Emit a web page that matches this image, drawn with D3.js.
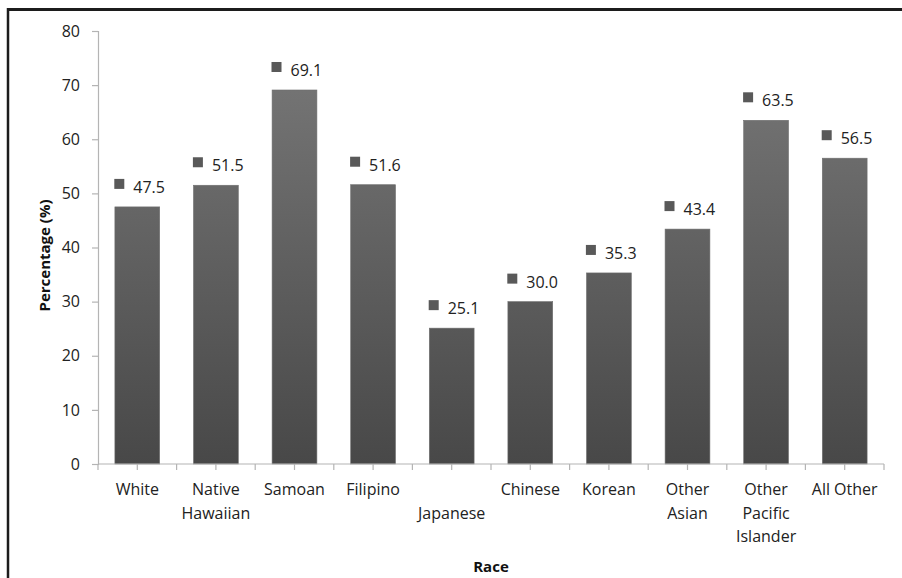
<!DOCTYPE html>
<html>
<head>
<meta charset="utf-8">
<script src="https://cdn.jsdelivr.net/npm/d3@7/dist/d3.min.js"></script>
<style>
  html, body { margin: 0; padding: 0; background: #fff; }
  svg { display: block; }
  text { font-family: "Open Sans", "DejaVu Sans", sans-serif; }
</style>
</head>
<body>
<svg id="chart" width="902" height="578"></svg>
<script>
// Share of each race group (percent)
const categories = ["White", "Native Hawaiian", "Samoan", "Filipino", "Japanese",
                    "Chinese", "Korean", "Other Asian", "Other Pacific Islander", "All Other"];
const values = [47.5, 51.5, 69.1, 51.6, 25.1, 30.0, 35.3, 43.4, 63.5, 56.5];
// Wrapped axis labels; an empty first line pushes the label down one row
const categoryLines = [
  ["White"], ["Native", "Hawaiian"], ["Samoan"], ["Filipino"], ["", "Japanese"],
  ["Chinese"], ["Korean"], ["Other", "Asian"], ["Other", "Pacific", "Islander"], ["All Other"]
];
const yTicks = [0, 10, 20, 30, 40, 50, 60, 70, 80];
const yTitle = "Percentage (%)";
const xTitle = "Race";

const svg = d3.select("#chart");
const W = 902, H = 578;
const plot = { left: 98, right: 884, top: 31, bottom: 464 };

// Outer frame: top and left rules
svg.append("line").attr("x1", 7).attr("x2", W).attr("y1", 9.5).attr("y2", 9.5)
  .attr("stroke", "#1c1c1c").attr("stroke-width", 3);
svg.append("line").attr("x1", 8).attr("x2", 8).attr("y1", 8).attr("y2", H)
  .attr("stroke", "#1c1c1c").attr("stroke-width", 2.5);

const x = d3.scaleBand().domain(categories).range([plot.left, plot.right])
  .paddingInner(0.43).paddingOuter(0.215);
const y = d3.scaleLinear().domain([0, 80]).range([plot.bottom, plot.top]);

// Vertical shading shared by all bars (light at the top, dark at the base)
const defs = svg.append("defs");
const gradObj = defs.append("linearGradient").attr("id", "barGradAbs")
  .attr("gradientUnits", "userSpaceOnUse")
  .attr("x1", 0).attr("y1", y(80)).attr("x2", 0).attr("y2", y(0));
gradObj.append("stop").attr("offset", "0%").attr("stop-color", "#7a7a7a");
gradObj.append("stop").attr("offset", "100%").attr("stop-color", "#484848");

// Y axis
const yAxis = d3.axisLeft(y).tickValues(yTicks).tickSize(6).tickPadding(12)
  .tickFormat(d3.format("d"));
const gy = svg.append("g").attr("transform", `translate(${plot.left},0)`).call(yAxis);
gy.select(".domain").attr("stroke", "#b4b4b4").attr("stroke-width", 1.2);
gy.selectAll(".tick line").attr("stroke", "#b4b4b4").attr("stroke-width", 1.2);
gy.selectAll(".tick text").attr("fill", "#222").style("font-size", "16px");

// Bars
svg.append("g").selectAll("rect").data(values).join("rect")
  .attr("x", (d, i) => x(categories[i]))
  .attr("y", d => y(d))
  .attr("width", x.bandwidth())
  .attr("height", d => y(0) - y(d))
  .attr("fill", "url(#barGradAbs)")
  .attr("stroke", "#6e6e6e").attr("stroke-width", 0.6);

// X axis with ticks at band edges and band centres
const halfStep = x.step() / 2;
const xTickPos = d3.range(0, categories.length * 2 + 1).map(k => plot.left + k * halfStep);
const gx = svg.append("g");
gx.append("line").attr("x1", plot.left).attr("x2", plot.right)
  .attr("y1", y(0)).attr("y2", y(0)).attr("stroke", "#b4b4b4").attr("stroke-width", 1.2);
gx.selectAll("line.tk").data(xTickPos).join("line").attr("class", "tk")
  .attr("x1", d => d).attr("x2", d => d)
  .attr("y1", y(0)).attr("y2", y(0) + 6)
  .attr("stroke", "#b4b4b4").attr("stroke-width", 1.2);

// Category labels
const lab = svg.append("g").selectAll("text").data(categories).join("text")
  .attr("text-anchor", "middle")
  .attr("fill", "#222").style("font-size", "16px");
lab.each(function (c, i) {
  const t = d3.select(this);
  categoryLines[i].forEach((ln, j) => {
    t.append("tspan").attr("x", x(c) + x.bandwidth() / 2)
      .attr("y", 495 + j * 23.5).text(ln);
  });
});

// Value labels: small square key plus the number
const vl = svg.append("g").selectAll("g").data(values).join("g")
  .attr("transform", (d, i) => `translate(${x(categories[i]) + x.bandwidth() / 2},${y(d)})`);
vl.append("rect").attr("x", -23).attr("y", -28).attr("width", 10).attr("height", 10)
  .attr("fill", "#595959");
vl.append("text").attr("x", -4).attr("y", -14)
  .attr("fill", "#222").style("font-size", "16px")
  .text(d => d3.format(".1f")(d));

// Axis titles
svg.append("text")
  .attr("transform", `translate(50,${(plot.top + plot.bottom) / 2 + 8}) rotate(-90)`)
  .attr("text-anchor", "middle").attr("fill", "#111")
  .style("font-size", "15px").style("font-weight", "bold").text(yTitle);
svg.append("text").attr("x", 491).attr("y", 572).attr("text-anchor", "middle")
  .attr("fill", "#111").style("font-size", "15px").style("font-weight", "bold")
  .text(xTitle);
</script>
</body>
</html>
